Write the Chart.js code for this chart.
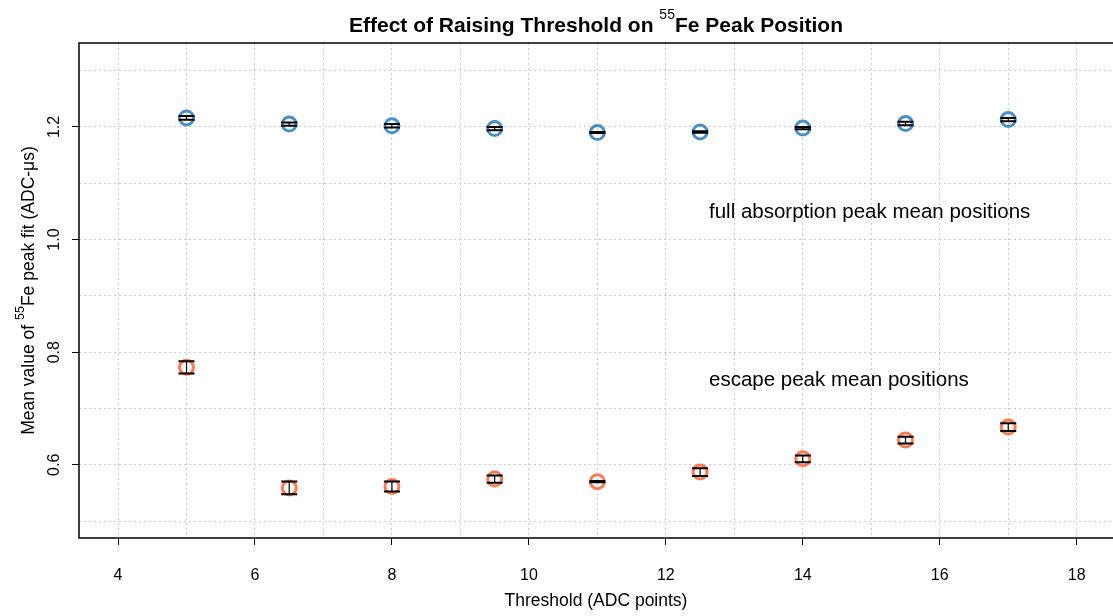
<!DOCTYPE html>
<html lang="en">
<head>
<meta charset="UTF-8">
<title>Effect of Raising Threshold on 55Fe Peak Position</title>
<script src="https://cdn.jsdelivr.net/npm/chart.js"></script>
<style>
  body { margin: 0; background: #fff; }
  canvas { display: block; }
</style>
</head>
<body>
<canvas id="chart" width="1113" height="616"></canvas>
<script>
// threshold settings (ADC points)
const thresholds = [5, 6.5, 8, 9.5, 11, 12.5, 14, 15.5, 17];
// full absorption peak: mean and error
const fullPeakMean = [1.216, 1.205, 1.202, 1.197, 1.190, 1.191, 1.198, 1.206, 1.213];
const fullPeakErr = [0.0035, 0.003, 0.003, 0.003, 0.001, 0.0015, 0.002, 0.003, 0.003];
// escape peak: mean and error
const escapePeakMean = [0.773, 0.559, 0.5615, 0.5746, 0.570, 0.587, 0.6106, 0.644, 0.667];
const escapePeakErr = [0.011, 0.0115, 0.009, 0.0065, 0.001, 0.0068, 0.006, 0.006, 0.0068];
const xTickLabels = [4, 6, 8, 10, 12, 14, 16, 18];
const yTickLabels = [0.6, 0.8, 1.0, 1.2];
const noteText = ['full absorption peak mean positions', 'escape peak mean positions'];
const noteX = [12.63, 12.63];
const noteY = [1.049, 0.750];

const FONT = '"Liberation Sans", Arial, Helvetica, sans-serif';

function toPoints(xs, ys) {
  return xs.map((x, i) => ({x: x, y: ys[i]}));
}

// draw text pieces (with superscripts) left to right, centred on x
function drawParts(ctx, parts, x, y) {
  let total = 0;
  parts.forEach(p => { ctx.font = p.font; total += ctx.measureText(p.text).width; });
  let cx = x - total / 2;
  ctx.textAlign = 'left';
  ctx.textBaseline = 'alphabetic';
  parts.forEach(p => {
    ctx.font = p.font;
    ctx.fillText(p.text, cx, y + (p.dy || 0));
    cx += ctx.measureText(p.text).width;
  });
}

const errorBars = {
  id: 'errorBars',
  afterDatasetsDraw(chart) {
    const ctx = chart.ctx;
    const xs = chart.scales.x, ys = chart.scales.y;
    ctx.save();
    ctx.strokeStyle = '#000';
    chart.data.datasets.forEach(ds => {
      ds.data.forEach((p, i) => {
        const px = xs.getPixelForValue(p.x);
        const top = ys.getPixelForValue(p.y + ds.errors[i]);
        const bot = ys.getPixelForValue(p.y - ds.errors[i]);
        ctx.lineWidth = 1.2;
        ctx.beginPath();
        ctx.moveTo(px, top); ctx.lineTo(px, bot);
        ctx.stroke();
        ctx.lineWidth = 2;
        ctx.beginPath();
        ctx.moveTo(px - 8, top); ctx.lineTo(px + 8, top);
        ctx.moveTo(px - 8, bot); ctx.lineTo(px + 8, bot);
        ctx.stroke();
      });
    });
    ctx.restore();
  }
};

const decorations = {
  id: 'decorations',
  afterDraw(chart) {
    const ctx = chart.ctx;
    const ca = chart.chartArea;
    const xs = chart.scales.x, ys = chart.scales.y;
    ctx.save();
    ctx.fillStyle = '#000';

    // frame
    ctx.strokeStyle = '#000';
    ctx.lineWidth = 1.5;
    ctx.beginPath();
    ctx.moveTo(ca.right + 2, ca.top);
    ctx.lineTo(ca.left, ca.top);
    ctx.lineTo(ca.left, ca.bottom);
    ctx.lineTo(ca.right + 2, ca.bottom);
    ctx.stroke();

    // title
    const midX = (ca.left + ca.right) / 2;
    drawParts(ctx, [
      {text: 'Effect of Raising Threshold on ', font: 'bold 21px ' + FONT},
      {text: '55', font: '14px ' + FONT, dy: -13},
      {text: 'Fe Peak Position', font: 'bold 21px ' + FONT}
    ], midX, 32);

    // y axis title
    ctx.save();
    ctx.translate(34, (ca.top + ca.bottom) / 2);
    ctx.rotate(-Math.PI / 2);
    drawParts(ctx, [
      {text: 'Mean value of ', font: '17.5px ' + FONT},
      {text: '55', font: '12.5px ' + FONT, dy: -10},
      {text: 'Fe peak fit (ADC-\u03bcs)', font: '17.5px ' + FONT}
    ], 0, 0);
    ctx.restore();

    // y tick labels, rotated like the reference
    ctx.font = '16px ' + FONT;
    yTickLabels.forEach(v => {
      ctx.save();
      ctx.translate(59, ys.getPixelForValue(v));
      ctx.rotate(-Math.PI / 2);
      ctx.textAlign = 'center';
      ctx.textBaseline = 'alphabetic';
      ctx.fillText(v.toFixed(1), 0, 0);
      ctx.restore();
    });

    // x axis title
    ctx.font = '17.5px ' + FONT;
    ctx.textAlign = 'center';
    ctx.textBaseline = 'middle';
    ctx.fillText('Threshold (ADC points)', midX, 601);

    // annotations
    ctx.font = '20.5px ' + FONT;
    ctx.textAlign = 'left';
    noteText.forEach((t, i) => {
      ctx.fillText(t, xs.getPixelForValue(noteX[i]), ys.getPixelForValue(noteY[i]));
    });
    ctx.restore();
  }
};

const isLabelX = v => xTickLabels.some(t => Math.abs(t - v) < 1e-6);
const isLabelY = v => yTickLabels.some(t => Math.abs(t - v) < 1e-6);

new Chart(document.getElementById('chart'), {
  type: 'scatter',
  data: {
    datasets: [{
      label: 'full absorption peak',
      data: toPoints(thresholds, fullPeakMean),
      errors: fullPeakErr,
      borderColor: '#4a90c8',
      backgroundColor: 'rgba(0,0,0,0)',
      pointRadius: 7,
      pointBorderWidth: 3
    }, {
      label: 'escape peak',
      data: toPoints(thresholds, escapePeakMean),
      errors: escapePeakErr,
      borderColor: '#fb7b55',
      backgroundColor: 'rgba(0,0,0,0)',
      pointRadius: 7,
      pointBorderWidth: 3
    }]
  },
  options: {
    responsive: false,
    animation: false,
    events: [],
    layout: { autoPadding: false, padding: { top: 43, left: 0, right: 0, bottom: 0 } },
    plugins: { legend: { display: false }, tooltip: { enabled: false }, title: { display: false } },
    scales: {
      x: {
        type: 'linear',
        min: 3.43,
        max: 18.53,
        afterFit: s => { s.height = 78; },
        ticks: {
          stepSize: 1,
          includeBounds: false,
          autoSkip: false,
          maxRotation: 0,
          padding: 21,
          color: '#000',
          font: { family: FONT, size: 16 },
          callback: v => isLabelX(v) ? String(v) : ''
        },
        grid: {
          color: '#c9c9c9',
          lineWidth: 1,
          tickLength: 7,
          tickWidth: 1,
          tickBorderDash: [],
          tickColor: c => (c.tick && isLabelX(c.tick.value)) ? '#000' : 'rgba(0,0,0,0)'
        },
        border: { display: false, dash: [2, 3] }
      },
      y: {
        type: 'linear',
        min: 0.47,
        max: 1.349,
        afterFit: s => { s.width = 79; },
        ticks: {
          stepSize: 0.1,
          includeBounds: false,
          autoSkip: false,
          display: false
        },
        grid: {
          color: '#c9c9c9',
          lineWidth: 1,
          tickLength: 7,
          tickWidth: 1,
          tickBorderDash: [],
          tickColor: c => (c.tick && isLabelY(c.tick.value)) ? '#000' : 'rgba(0,0,0,0)'
        },
        border: { display: false, dash: [2, 3] }
      }
    }
  },
  plugins: [errorBars, decorations]
});
</script>
</body>
</html>
